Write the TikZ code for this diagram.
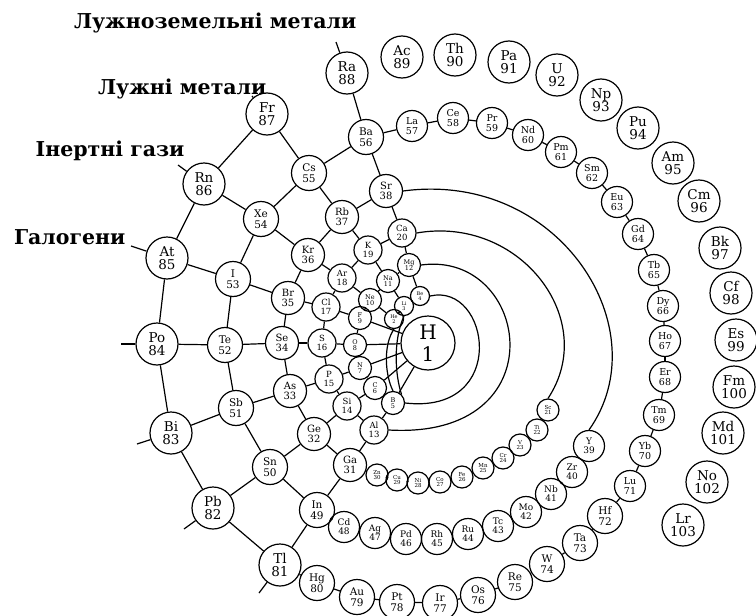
\documentclass[tikz,border=0pt]{standalone}
\usepackage{fontspec}
\setmainfont{DejaVu Serif}
\newfontfamily\labfont{DejaVu Serif}
\begin{document}
\begin{tikzpicture}[x=1pt,y=-1pt,line width=1.2pt]
\useasboundingbox (0,0) rectangle (756,616);
\tikzset{
  el/.style={circle,draw,line width=1.2pt,inner sep=0pt,align=center},
  eA/.style={el,minimum size=42pt,font=\fontsize{13.5}{13}\selectfont},
  eB/.style={el,minimum size=35pt,font=\fontsize{10.5}{10.5}\selectfont},
  eC/.style={el,minimum size=33pt,font=\fontsize{10}{10}\selectfont},
  eD/.style={el,minimum size=28pt,font=\fontsize{8.5}{8.5}\selectfont},
  eE/.style={el,minimum size=23pt,font=\fontsize{6.5}{6.5}\selectfont},
  eS/.style={el,minimum size=19pt,font=\fontsize{5}{5}\selectfont},
  eL/.style={el,minimum size=31pt,font=\fontsize{9.5}{9.5}\selectfont},
  eP/.style={el,minimum size=35pt,font=\fontsize{10.5}{10.5}\selectfont},
  eQ/.style={el,minimum size=31pt,font=\fontsize{9}{9}\selectfont},
  eT/.style={el,minimum size=22pt,font=\fontsize{5.5}{5.5}\selectfont},
  eH/.style={el,minimum size=54pt,font=\fontsize{20}{22}\selectfont},
  lbl/.style={font=\labfont\bfseries\fontsize{20.5}{20.5}\selectfont,inner sep=0pt},
  ln/.style={line width=1.2pt}
}
\newcommand\elm[5]{\node[#1] (#2) at (#3) {#4\\#5};}
% outer ring
\elm{eA}{Ra}{347,73}{Ra}{88}
\elm{eA}{Fr}{267,114}{Fr}{87}
\elm{eA}{Rn}{204,184}{Rn}{86}
\elm{eA}{At}{167,258}{At}{85}
\elm{eA}{Po}{157,344}{Po}{84}
\elm{eA}{Bi}{171,433}{Bi}{83}
\elm{eA}{Pb}{213,508}{Pb}{82}
\elm{eA}{Tl}{280,565}{Tl}{81}
% actinides
\elm{eA}{Ac}{402,57}{Ac}{89}
\elm{eA}{Th}{455,55}{Th}{90}
\elm{eA}{Pa}{509,62}{Pa}{91}
\elm{eA}{U}{557,75}{U}{92}
\elm{eA}{Np}{601,100}{Np}{93}
\elm{eA}{Pu}{638,128}{Pu}{94}
\elm{eA}{Am}{673,163}{Am}{95}
\elm{eA}{Cm}{699,201}{Cm}{96}
\elm{eA}{Bk}{720,248}{Bk}{97}
\elm{eA}{Cf}{731,293}{Cf}{98}
\elm{eA}{Es}{736,340}{Es}{99}
\elm{eA}{Fm}{734,387}{Fm}{100}
\elm{eA}{Md}{723,433}{Md}{101}
\elm{eA}{No}{707,482}{No}{102}
\elm{eA}{Lr}{683,525}{Lr}{103}
% level 5
\elm{eB}{Ba}{366,137}{Ba}{56}
\elm{eB}{Cs}{309,173}{Cs}{55}
\elm{eB}{Xe}{261,219}{Xe}{54}
\elm{eB}{I}{233,279}{I}{53}
\elm{eB}{Te}{225,345}{Te}{52}
\elm{eB}{Sb}{236,408}{Sb}{51}
\elm{eB}{Sn}{270,467}{Sn}{50}
\elm{eB}{In}{317,510}{In}{49}
% level 4
\elm{eC}{Sr}{386,191}{Sr}{38}
\elm{eC}{Rb}{342,217}{Rb}{37}
\elm{eC}{Kr}{308,255}{Kr}{36}
\elm{eC}{Br}{288,298}{Br}{35}
\elm{eC}{Se}{282,343}{Se}{34}
\elm{eC}{As}{290,391}{As}{33}
\elm{eC}{Ge}{314,434}{Ge}{32}
\elm{eC}{Ga}{350,465}{Ga}{31}
% level 3
\elm{eD}{Ca}{402,233}{Ca}{20}
\elm{eD}{K}{368,250}{K}{19}
\elm{eD}{Ar}{342,278}{Ar}{18}
\elm{eD}{Cl}{326,307}{Cl}{17}
\elm{eD}{S}{322,343}{S}{16}
\elm{eD}{P}{329,379}{P}{15}
\elm{eD}{Si}{347,406}{Si}{14}
\elm{eD}{Al}{374,430}{Al}{13}
% level 2
\elm{eE}{Mg}{409,265}{Mg}{12}
\elm{eE}{Na}{388,281}{Na}{11}
\elm{eE}{Ne}{370,300}{Ne}{10}
\elm{eE}{F}{360,318}{F}{9}
\elm{eE}{O}{355,345}{O}{8}
\elm{eE}{N}{360,368}{N}{7}
\elm{eE}{C}{375,388}{C}{6}
\elm{eE}{B}{393,403}{B}{5}
% level 1
\elm{eS}{Be}{420,296}{Be}{4}
\elm{eS}{Li}{404,306}{Li}{3}
\elm{eS}{He}{394,319}{He}{2}
% hydrogen
\elm{eH}{H}{428,343}{H}{1}
% lanthanides and 5d
\elm{eL}{La}{412,126}{La}{57}
\elm{eL}{Ce}{453,118}{Ce}{58}
\elm{eL}{Pr}{492,123}{Pr}{59}
\elm{eL}{Nd}{528,135}{Nd}{60}
\elm{eL}{Pm}{561,152}{Pm}{61}
\elm{eL}{Sm}{592,173}{Sm}{62}
\elm{eL}{Eu}{617,202}{Eu}{63}
\elm{eL}{Gd}{638,234}{Gd}{64}
\elm{eL}{Tb}{654,270}{Tb}{65}
\elm{eL}{Dy}{663,306}{Dy}{66}
\elm{eL}{Ho}{665,341}{Ho}{67}
\elm{eL}{Er}{665,377}{Er}{68}
\elm{eL}{Tm}{659,415}{Tm}{69}
\elm{eL}{Yb}{645,451}{Yb}{70}
\elm{eL}{Lu}{630,486}{Lu}{71}
\elm{eP}{Hf}{605,516}{Hf}{72}
\elm{eP}{Ta}{580,543}{Ta}{73}
\elm{eP}{W}{547,564}{W}{74}
\elm{eP}{Re}{515,582}{Re}{75}
\elm{eP}{Os}{478,595}{Os}{76}
\elm{eP}{Ir}{440,603}{Ir}{77}
\elm{eP}{Pt}{397,602}{Pt}{78}
\elm{eP}{Au}{357,597}{Au}{79}
\elm{eP}{Hg}{317,583}{Hg}{80}
% 4d
\elm{eQ}{Y}{589,446}{Y}{39}
\elm{eQ}{Zr}{572,472}{Zr}{40}
\elm{eQ}{Nb}{551,494}{Nb}{41}
\elm{eQ}{Mo}{526,512}{Mo}{42}
\elm{eQ}{Tc}{498,526}{Tc}{43}
\elm{eQ}{Ru}{468,534}{Ru}{44}
\elm{eQ}{Rh}{437,539}{Rh}{45}
\elm{eQ}{Pd}{406,539}{Pd}{46}
\elm{eQ}{Ag}{375,533}{Ag}{47}
\elm{eQ}{Cd}{344,527}{Cd}{48}
% 3d
\elm{eT}{Sc}{548,410}{Sc}{21}
\elm{eT}{Ti}{537,430}{Ti}{22}
\elm{eT}{V}{520,445}{V}{23}
\elm{eT}{Cr}{503,458}{Cr}{24}
\elm{eT}{Mn}{483,468}{Mn}{25}
\elm{eT}{Fe}{462,477}{Fe}{26}
\elm{eT}{Co}{440,482}{Co}{27}
\elm{eT}{Ni}{418,483}{Ni}{28}
\elm{eT}{Cu}{397,480}{Cu}{29}
\elm{eT}{Zn}{377,475}{Zn}{30}
% group labels
\node[lbl,anchor=east] (lae) at (357,23) {Лужноземельні метали};
\node[lbl,anchor=east] (lal) at (267,89) {Лужні метали};
\node[lbl,anchor=east] (lin) at (185,151) {Інертні гази};
\node[lbl,anchor=east] (lha) at (126,237) {Галогени};
\coordinate (tRa) at (336,42);
\coordinate (tFr) at (252,96);
\coordinate (tRn) at (178,165);
\coordinate (tAt) at (131,246);
\coordinate (tPo) at (121,344);
\coordinate (tBi) at (137,444);
\coordinate (tPb) at (184,529);
\coordinate (tTl) at (259,593);
% rings
\foreach \a/\b in {Fr/Rn,Rn/At,At/Po,Po/Bi,Bi/Pb,Pb/Tl,
  Ba/Cs,Cs/Xe,Xe/I,I/Te,Te/Sb,Sb/Sn,Sn/In,
  Sr/Rb,Rb/Kr,Kr/Br,Br/Se,Se/As,As/Ge,Ge/Ga,
  Ca/K,K/Ar,Ar/Cl,Cl/S,S/P,P/Si,Si/Al,
  Mg/Na,Na/Ne,Ne/F,F/O,O/N,N/C,C/B,
  Be/Li,Li/He}
  \draw[ln] (\a) -- (\b);
% spokes
\foreach \a/\b in {tRa/Ra,Ra/Ba,Ba/Sr,Sr/Ca,Ca/Mg,Mg/Be,
  tFr/Fr,Fr/Cs,Cs/Rb,Rb/K,K/Na,Na/Li,
  tRn/Rn,Rn/Xe,Xe/Kr,Kr/Ar,Ar/Ne,Ne/He,
  tAt/At,At/I,I/Br,Br/Cl,Cl/F,F/H,
  tPo/Po,Po/Te,Te/Se,Se/S,S/O,O/H,
  tBi/Bi,Bi/Sb,Sb/As,As/P,P/N,N/H,
  tPb/Pb,Pb/Sn,Sn/Ge,Ge/Si,Si/C,C/H,
  tTl/Tl,Tl/In,In/Ga,Ga/Al,Al/B,B/H}
  \draw[ln] (\a) -- (\b);
% chains
\foreach \a/\b in {Ba/La,La/Ce,Ce/Pr,Pr/Nd,Nd/Pm,Pm/Sm,Sm/Eu,Eu/Gd,Gd/Tb,Tb/Dy,Dy/Ho,Ho/Er,Er/Tm,Tm/Yb,Yb/Lu,Lu/Hf,Hf/Ta,Ta/W,W/Re,Re/Os,Os/Ir,Ir/Pt,Pt/Au,Au/Hg,Hg/Tl,
  Y/Zr,Zr/Nb,Nb/Mo,Mo/Tc,Tc/Ru,Ru/Rh,Rh/Pd,Pd/Ag,Ag/Cd,Cd/In,
  Sc/Ti,Ti/V,V/Cr,Cr/Mn,Mn/Fe,Fe/Co,Co/Ni,Ni/Cu,Cu/Zn,Zn/Ga}
  \draw[ln] (\a) -- (\b);
% arcs
\draw[ln] (Sr.east) .. controls (560,170) and (660,330) .. (Y.north);
\draw[ln] (Ca.east) .. controls (520,215) and (600,320) .. (Sc.north);
\draw[ln] (Mg.east) .. controls (530,250) and (560,440) .. (Al.east);
\draw[ln] (Be.east) .. controls (490,282) and (510,415) .. (B.east);
\draw[ln] (He.south) .. controls (383,345) and (385,375) .. (B.north);
\draw[ln] (Li.south) .. controls (393,340) and (395,375) .. (B.north east);
\end{tikzpicture}
\end{document}
